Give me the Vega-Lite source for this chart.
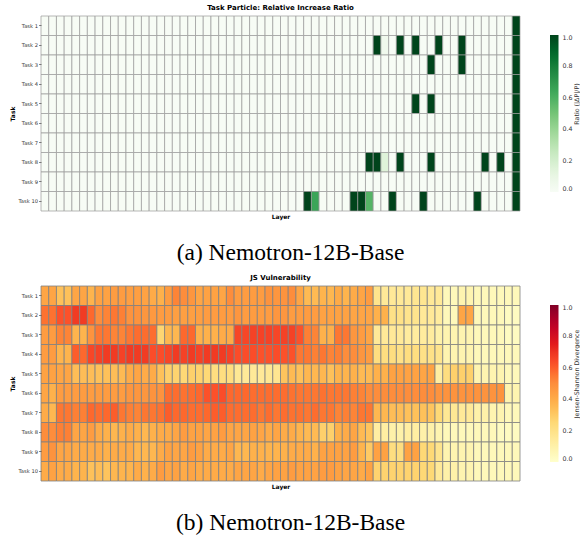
{
"$schema": "https://vega.github.io/schema/vega-lite/v6.json",
"background": "white",
"padding": {"left": 9, "top": 3, "right": 0, "bottom": 0},
"config": {"view": {"stroke": null}, "font": "DejaVu Sans"},
"datasets": {
"ratio": [
{"t":1,"l":0,"v":0},{"t":1,"l":1,"v":0},{"t":1,"l":2,"v":0},{"t":1,"l":3,"v":0},{"t":1,"l":4,"v":0},{"t":1,"l":5,"v":0},{"t":1,"l":6,"v":0},{"t":1,"l":7,"v":0},{"t":1,"l":8,"v":0},{"t":1,"l":9,"v":0},{"t":1,"l":10,"v":0},{"t":1,"l":11,"v":0},{"t":1,"l":12,"v":0},{"t":1,"l":13,"v":0},{"t":1,"l":14,"v":0},{"t":1,"l":15,"v":0},{"t":1,"l":16,"v":0},{"t":1,"l":17,"v":0},{"t":1,"l":18,"v":0},{"t":1,"l":19,"v":0},{"t":1,"l":20,"v":0},{"t":1,"l":21,"v":0},{"t":1,"l":22,"v":0},{"t":1,"l":23,"v":0},{"t":1,"l":24,"v":0},{"t":1,"l":25,"v":0},{"t":1,"l":26,"v":0},{"t":1,"l":27,"v":0},{"t":1,"l":28,"v":0},{"t":1,"l":29,"v":0},{"t":1,"l":30,"v":0},{"t":1,"l":31,"v":0},{"t":1,"l":32,"v":0},{"t":1,"l":33,"v":0},{"t":1,"l":34,"v":0},{"t":1,"l":35,"v":0},{"t":1,"l":36,"v":0},{"t":1,"l":37,"v":0},{"t":1,"l":38,"v":0},{"t":1,"l":39,"v":0},{"t":1,"l":40,"v":0},{"t":1,"l":41,"v":0},{"t":1,"l":42,"v":0},{"t":1,"l":43,"v":0},{"t":1,"l":44,"v":0},{"t":1,"l":45,"v":0},{"t":1,"l":46,"v":0},{"t":1,"l":47,"v":0},{"t":1,"l":48,"v":0},{"t":1,"l":49,"v":0},{"t":1,"l":50,"v":0},{"t":1,"l":51,"v":0},{"t":1,"l":52,"v":0},{"t":1,"l":53,"v":0},{"t":1,"l":54,"v":0},{"t":1,"l":55,"v":0},{"t":1,"l":56,"v":0},{"t":1,"l":57,"v":0},{"t":1,"l":58,"v":0},{"t":1,"l":59,"v":0},{"t":1,"l":60,"v":0},{"t":1,"l":61,"v":1},
{"t":2,"l":0,"v":0},{"t":2,"l":1,"v":0},{"t":2,"l":2,"v":0},{"t":2,"l":3,"v":0},{"t":2,"l":4,"v":0},{"t":2,"l":5,"v":0},{"t":2,"l":6,"v":0},{"t":2,"l":7,"v":0},{"t":2,"l":8,"v":0},{"t":2,"l":9,"v":0},{"t":2,"l":10,"v":0},{"t":2,"l":11,"v":0},{"t":2,"l":12,"v":0},{"t":2,"l":13,"v":0},{"t":2,"l":14,"v":0},{"t":2,"l":15,"v":0},{"t":2,"l":16,"v":0},{"t":2,"l":17,"v":0},{"t":2,"l":18,"v":0},{"t":2,"l":19,"v":0},{"t":2,"l":20,"v":0},{"t":2,"l":21,"v":0},{"t":2,"l":22,"v":0},{"t":2,"l":23,"v":0},{"t":2,"l":24,"v":0},{"t":2,"l":25,"v":0},{"t":2,"l":26,"v":0},{"t":2,"l":27,"v":0},{"t":2,"l":28,"v":0},{"t":2,"l":29,"v":0},{"t":2,"l":30,"v":0},{"t":2,"l":31,"v":0},{"t":2,"l":32,"v":0},{"t":2,"l":33,"v":0},{"t":2,"l":34,"v":0},{"t":2,"l":35,"v":0},{"t":2,"l":36,"v":0},{"t":2,"l":37,"v":0},{"t":2,"l":38,"v":0},{"t":2,"l":39,"v":0},{"t":2,"l":40,"v":0},{"t":2,"l":41,"v":0},{"t":2,"l":42,"v":0},{"t":2,"l":43,"v":1},{"t":2,"l":44,"v":0.05},{"t":2,"l":45,"v":0},{"t":2,"l":46,"v":1},{"t":2,"l":47,"v":0},{"t":2,"l":48,"v":1},{"t":2,"l":49,"v":0},{"t":2,"l":50,"v":0},{"t":2,"l":51,"v":1},{"t":2,"l":52,"v":0},{"t":2,"l":53,"v":0},{"t":2,"l":54,"v":1},{"t":2,"l":55,"v":0},{"t":2,"l":56,"v":0},{"t":2,"l":57,"v":0},{"t":2,"l":58,"v":0},{"t":2,"l":59,"v":0},{"t":2,"l":60,"v":0},{"t":2,"l":61,"v":1},
{"t":3,"l":0,"v":0},{"t":3,"l":1,"v":0},{"t":3,"l":2,"v":0},{"t":3,"l":3,"v":0},{"t":3,"l":4,"v":0},{"t":3,"l":5,"v":0},{"t":3,"l":6,"v":0},{"t":3,"l":7,"v":0},{"t":3,"l":8,"v":0},{"t":3,"l":9,"v":0},{"t":3,"l":10,"v":0},{"t":3,"l":11,"v":0},{"t":3,"l":12,"v":0},{"t":3,"l":13,"v":0},{"t":3,"l":14,"v":0},{"t":3,"l":15,"v":0},{"t":3,"l":16,"v":0},{"t":3,"l":17,"v":0},{"t":3,"l":18,"v":0},{"t":3,"l":19,"v":0},{"t":3,"l":20,"v":0},{"t":3,"l":21,"v":0},{"t":3,"l":22,"v":0},{"t":3,"l":23,"v":0},{"t":3,"l":24,"v":0},{"t":3,"l":25,"v":0},{"t":3,"l":26,"v":0},{"t":3,"l":27,"v":0},{"t":3,"l":28,"v":0},{"t":3,"l":29,"v":0},{"t":3,"l":30,"v":0},{"t":3,"l":31,"v":0},{"t":3,"l":32,"v":0},{"t":3,"l":33,"v":0},{"t":3,"l":34,"v":0},{"t":3,"l":35,"v":0},{"t":3,"l":36,"v":0},{"t":3,"l":37,"v":0},{"t":3,"l":38,"v":0},{"t":3,"l":39,"v":0},{"t":3,"l":40,"v":0},{"t":3,"l":41,"v":0},{"t":3,"l":42,"v":0},{"t":3,"l":43,"v":0},{"t":3,"l":44,"v":0},{"t":3,"l":45,"v":0},{"t":3,"l":46,"v":0},{"t":3,"l":47,"v":0},{"t":3,"l":48,"v":0},{"t":3,"l":49,"v":0},{"t":3,"l":50,"v":1},{"t":3,"l":51,"v":0},{"t":3,"l":52,"v":0},{"t":3,"l":53,"v":0},{"t":3,"l":54,"v":1},{"t":3,"l":55,"v":0},{"t":3,"l":56,"v":0},{"t":3,"l":57,"v":0},{"t":3,"l":58,"v":0},{"t":3,"l":59,"v":0},{"t":3,"l":60,"v":0},{"t":3,"l":61,"v":1},
{"t":4,"l":0,"v":0},{"t":4,"l":1,"v":0},{"t":4,"l":2,"v":0},{"t":4,"l":3,"v":0},{"t":4,"l":4,"v":0},{"t":4,"l":5,"v":0},{"t":4,"l":6,"v":0},{"t":4,"l":7,"v":0},{"t":4,"l":8,"v":0},{"t":4,"l":9,"v":0},{"t":4,"l":10,"v":0},{"t":4,"l":11,"v":0},{"t":4,"l":12,"v":0},{"t":4,"l":13,"v":0},{"t":4,"l":14,"v":0},{"t":4,"l":15,"v":0},{"t":4,"l":16,"v":0},{"t":4,"l":17,"v":0},{"t":4,"l":18,"v":0},{"t":4,"l":19,"v":0},{"t":4,"l":20,"v":0},{"t":4,"l":21,"v":0},{"t":4,"l":22,"v":0},{"t":4,"l":23,"v":0},{"t":4,"l":24,"v":0},{"t":4,"l":25,"v":0},{"t":4,"l":26,"v":0},{"t":4,"l":27,"v":0},{"t":4,"l":28,"v":0},{"t":4,"l":29,"v":0},{"t":4,"l":30,"v":0},{"t":4,"l":31,"v":0},{"t":4,"l":32,"v":0},{"t":4,"l":33,"v":0},{"t":4,"l":34,"v":0},{"t":4,"l":35,"v":0},{"t":4,"l":36,"v":0},{"t":4,"l":37,"v":0},{"t":4,"l":38,"v":0},{"t":4,"l":39,"v":0},{"t":4,"l":40,"v":0},{"t":4,"l":41,"v":0},{"t":4,"l":42,"v":0},{"t":4,"l":43,"v":0},{"t":4,"l":44,"v":0},{"t":4,"l":45,"v":0},{"t":4,"l":46,"v":0},{"t":4,"l":47,"v":0},{"t":4,"l":48,"v":0},{"t":4,"l":49,"v":0},{"t":4,"l":50,"v":0},{"t":4,"l":51,"v":0},{"t":4,"l":52,"v":0},{"t":4,"l":53,"v":0},{"t":4,"l":54,"v":0},{"t":4,"l":55,"v":0},{"t":4,"l":56,"v":0},{"t":4,"l":57,"v":0},{"t":4,"l":58,"v":0},{"t":4,"l":59,"v":0},{"t":4,"l":60,"v":0},{"t":4,"l":61,"v":1},
{"t":5,"l":0,"v":0},{"t":5,"l":1,"v":0},{"t":5,"l":2,"v":0},{"t":5,"l":3,"v":0},{"t":5,"l":4,"v":0},{"t":5,"l":5,"v":0},{"t":5,"l":6,"v":0},{"t":5,"l":7,"v":0},{"t":5,"l":8,"v":0},{"t":5,"l":9,"v":0},{"t":5,"l":10,"v":0},{"t":5,"l":11,"v":0},{"t":5,"l":12,"v":0},{"t":5,"l":13,"v":0},{"t":5,"l":14,"v":0},{"t":5,"l":15,"v":0},{"t":5,"l":16,"v":0},{"t":5,"l":17,"v":0},{"t":5,"l":18,"v":0},{"t":5,"l":19,"v":0},{"t":5,"l":20,"v":0},{"t":5,"l":21,"v":0},{"t":5,"l":22,"v":0},{"t":5,"l":23,"v":0},{"t":5,"l":24,"v":0},{"t":5,"l":25,"v":0},{"t":5,"l":26,"v":0},{"t":5,"l":27,"v":0},{"t":5,"l":28,"v":0},{"t":5,"l":29,"v":0},{"t":5,"l":30,"v":0},{"t":5,"l":31,"v":0},{"t":5,"l":32,"v":0},{"t":5,"l":33,"v":0},{"t":5,"l":34,"v":0},{"t":5,"l":35,"v":0},{"t":5,"l":36,"v":0},{"t":5,"l":37,"v":0},{"t":5,"l":38,"v":0},{"t":5,"l":39,"v":0},{"t":5,"l":40,"v":0},{"t":5,"l":41,"v":0},{"t":5,"l":42,"v":0},{"t":5,"l":43,"v":0},{"t":5,"l":44,"v":0},{"t":5,"l":45,"v":0},{"t":5,"l":46,"v":0},{"t":5,"l":47,"v":0},{"t":5,"l":48,"v":1},{"t":5,"l":49,"v":0},{"t":5,"l":50,"v":1},{"t":5,"l":51,"v":0},{"t":5,"l":52,"v":0},{"t":5,"l":53,"v":0},{"t":5,"l":54,"v":0},{"t":5,"l":55,"v":0},{"t":5,"l":56,"v":0},{"t":5,"l":57,"v":0},{"t":5,"l":58,"v":0},{"t":5,"l":59,"v":0},{"t":5,"l":60,"v":0},{"t":5,"l":61,"v":1},
{"t":6,"l":0,"v":0},{"t":6,"l":1,"v":0},{"t":6,"l":2,"v":0},{"t":6,"l":3,"v":0},{"t":6,"l":4,"v":0},{"t":6,"l":5,"v":0},{"t":6,"l":6,"v":0},{"t":6,"l":7,"v":0},{"t":6,"l":8,"v":0},{"t":6,"l":9,"v":0},{"t":6,"l":10,"v":0},{"t":6,"l":11,"v":0},{"t":6,"l":12,"v":0},{"t":6,"l":13,"v":0},{"t":6,"l":14,"v":0},{"t":6,"l":15,"v":0},{"t":6,"l":16,"v":0},{"t":6,"l":17,"v":0},{"t":6,"l":18,"v":0},{"t":6,"l":19,"v":0},{"t":6,"l":20,"v":0},{"t":6,"l":21,"v":0},{"t":6,"l":22,"v":0},{"t":6,"l":23,"v":0},{"t":6,"l":24,"v":0},{"t":6,"l":25,"v":0},{"t":6,"l":26,"v":0},{"t":6,"l":27,"v":0},{"t":6,"l":28,"v":0},{"t":6,"l":29,"v":0},{"t":6,"l":30,"v":0},{"t":6,"l":31,"v":0},{"t":6,"l":32,"v":0},{"t":6,"l":33,"v":0},{"t":6,"l":34,"v":0},{"t":6,"l":35,"v":0},{"t":6,"l":36,"v":0},{"t":6,"l":37,"v":0},{"t":6,"l":38,"v":0},{"t":6,"l":39,"v":0},{"t":6,"l":40,"v":0},{"t":6,"l":41,"v":0},{"t":6,"l":42,"v":0},{"t":6,"l":43,"v":0},{"t":6,"l":44,"v":0},{"t":6,"l":45,"v":0},{"t":6,"l":46,"v":0},{"t":6,"l":47,"v":0},{"t":6,"l":48,"v":0},{"t":6,"l":49,"v":0},{"t":6,"l":50,"v":0},{"t":6,"l":51,"v":0},{"t":6,"l":52,"v":0},{"t":6,"l":53,"v":0},{"t":6,"l":54,"v":0},{"t":6,"l":55,"v":0},{"t":6,"l":56,"v":0},{"t":6,"l":57,"v":0},{"t":6,"l":58,"v":0},{"t":6,"l":59,"v":0},{"t":6,"l":60,"v":0},{"t":6,"l":61,"v":1},
{"t":7,"l":0,"v":0},{"t":7,"l":1,"v":0},{"t":7,"l":2,"v":0},{"t":7,"l":3,"v":0},{"t":7,"l":4,"v":0},{"t":7,"l":5,"v":0},{"t":7,"l":6,"v":0},{"t":7,"l":7,"v":0},{"t":7,"l":8,"v":0},{"t":7,"l":9,"v":0},{"t":7,"l":10,"v":0},{"t":7,"l":11,"v":0},{"t":7,"l":12,"v":0},{"t":7,"l":13,"v":0},{"t":7,"l":14,"v":0},{"t":7,"l":15,"v":0},{"t":7,"l":16,"v":0},{"t":7,"l":17,"v":0},{"t":7,"l":18,"v":0},{"t":7,"l":19,"v":0},{"t":7,"l":20,"v":0},{"t":7,"l":21,"v":0},{"t":7,"l":22,"v":0},{"t":7,"l":23,"v":0},{"t":7,"l":24,"v":0},{"t":7,"l":25,"v":0},{"t":7,"l":26,"v":0},{"t":7,"l":27,"v":0},{"t":7,"l":28,"v":0},{"t":7,"l":29,"v":0},{"t":7,"l":30,"v":0},{"t":7,"l":31,"v":0},{"t":7,"l":32,"v":0},{"t":7,"l":33,"v":0},{"t":7,"l":34,"v":0},{"t":7,"l":35,"v":0},{"t":7,"l":36,"v":0},{"t":7,"l":37,"v":0},{"t":7,"l":38,"v":0},{"t":7,"l":39,"v":0},{"t":7,"l":40,"v":0},{"t":7,"l":41,"v":0},{"t":7,"l":42,"v":0},{"t":7,"l":43,"v":0},{"t":7,"l":44,"v":0},{"t":7,"l":45,"v":0},{"t":7,"l":46,"v":0},{"t":7,"l":47,"v":0},{"t":7,"l":48,"v":0},{"t":7,"l":49,"v":0},{"t":7,"l":50,"v":0},{"t":7,"l":51,"v":0},{"t":7,"l":52,"v":0},{"t":7,"l":53,"v":0},{"t":7,"l":54,"v":0},{"t":7,"l":55,"v":0},{"t":7,"l":56,"v":0},{"t":7,"l":57,"v":0},{"t":7,"l":58,"v":0},{"t":7,"l":59,"v":0},{"t":7,"l":60,"v":0},{"t":7,"l":61,"v":1},
{"t":8,"l":0,"v":0},{"t":8,"l":1,"v":0},{"t":8,"l":2,"v":0},{"t":8,"l":3,"v":0},{"t":8,"l":4,"v":0},{"t":8,"l":5,"v":0},{"t":8,"l":6,"v":0},{"t":8,"l":7,"v":0},{"t":8,"l":8,"v":0},{"t":8,"l":9,"v":0},{"t":8,"l":10,"v":0},{"t":8,"l":11,"v":0},{"t":8,"l":12,"v":0},{"t":8,"l":13,"v":0},{"t":8,"l":14,"v":0},{"t":8,"l":15,"v":0},{"t":8,"l":16,"v":0},{"t":8,"l":17,"v":0},{"t":8,"l":18,"v":0},{"t":8,"l":19,"v":0},{"t":8,"l":20,"v":0},{"t":8,"l":21,"v":0},{"t":8,"l":22,"v":0},{"t":8,"l":23,"v":0},{"t":8,"l":24,"v":0},{"t":8,"l":25,"v":0},{"t":8,"l":26,"v":0},{"t":8,"l":27,"v":0},{"t":8,"l":28,"v":0},{"t":8,"l":29,"v":0},{"t":8,"l":30,"v":0},{"t":8,"l":31,"v":0},{"t":8,"l":32,"v":0},{"t":8,"l":33,"v":0},{"t":8,"l":34,"v":0},{"t":8,"l":35,"v":0},{"t":8,"l":36,"v":0},{"t":8,"l":37,"v":0},{"t":8,"l":38,"v":0},{"t":8,"l":39,"v":0},{"t":8,"l":40,"v":0},{"t":8,"l":41,"v":0},{"t":8,"l":42,"v":1},{"t":8,"l":43,"v":1},{"t":8,"l":44,"v":0.15},{"t":8,"l":45,"v":0},{"t":8,"l":46,"v":1},{"t":8,"l":47,"v":0},{"t":8,"l":48,"v":0},{"t":8,"l":49,"v":0},{"t":8,"l":50,"v":1},{"t":8,"l":51,"v":0},{"t":8,"l":52,"v":0},{"t":8,"l":53,"v":0},{"t":8,"l":54,"v":0},{"t":8,"l":55,"v":0},{"t":8,"l":56,"v":0},{"t":8,"l":57,"v":1},{"t":8,"l":58,"v":0},{"t":8,"l":59,"v":1},{"t":8,"l":60,"v":0},{"t":8,"l":61,"v":1},
{"t":9,"l":0,"v":0},{"t":9,"l":1,"v":0},{"t":9,"l":2,"v":0},{"t":9,"l":3,"v":0},{"t":9,"l":4,"v":0},{"t":9,"l":5,"v":0},{"t":9,"l":6,"v":0},{"t":9,"l":7,"v":0},{"t":9,"l":8,"v":0},{"t":9,"l":9,"v":0},{"t":9,"l":10,"v":0},{"t":9,"l":11,"v":0},{"t":9,"l":12,"v":0},{"t":9,"l":13,"v":0},{"t":9,"l":14,"v":0},{"t":9,"l":15,"v":0},{"t":9,"l":16,"v":0},{"t":9,"l":17,"v":0},{"t":9,"l":18,"v":0},{"t":9,"l":19,"v":0},{"t":9,"l":20,"v":0},{"t":9,"l":21,"v":0},{"t":9,"l":22,"v":0},{"t":9,"l":23,"v":0},{"t":9,"l":24,"v":0},{"t":9,"l":25,"v":0},{"t":9,"l":26,"v":0},{"t":9,"l":27,"v":0},{"t":9,"l":28,"v":0},{"t":9,"l":29,"v":0},{"t":9,"l":30,"v":0},{"t":9,"l":31,"v":0},{"t":9,"l":32,"v":0},{"t":9,"l":33,"v":0},{"t":9,"l":34,"v":0},{"t":9,"l":35,"v":0},{"t":9,"l":36,"v":0},{"t":9,"l":37,"v":0},{"t":9,"l":38,"v":0},{"t":9,"l":39,"v":0},{"t":9,"l":40,"v":0},{"t":9,"l":41,"v":0},{"t":9,"l":42,"v":0},{"t":9,"l":43,"v":0},{"t":9,"l":44,"v":0},{"t":9,"l":45,"v":0},{"t":9,"l":46,"v":0},{"t":9,"l":47,"v":0},{"t":9,"l":48,"v":0},{"t":9,"l":49,"v":0},{"t":9,"l":50,"v":0},{"t":9,"l":51,"v":0},{"t":9,"l":52,"v":0},{"t":9,"l":53,"v":0},{"t":9,"l":54,"v":0},{"t":9,"l":55,"v":0},{"t":9,"l":56,"v":0},{"t":9,"l":57,"v":0},{"t":9,"l":58,"v":0},{"t":9,"l":59,"v":0},{"t":9,"l":60,"v":0},{"t":9,"l":61,"v":1},
{"t":10,"l":0,"v":0},{"t":10,"l":1,"v":0},{"t":10,"l":2,"v":0},{"t":10,"l":3,"v":0},{"t":10,"l":4,"v":0},{"t":10,"l":5,"v":0},{"t":10,"l":6,"v":0},{"t":10,"l":7,"v":0},{"t":10,"l":8,"v":0},{"t":10,"l":9,"v":0},{"t":10,"l":10,"v":0},{"t":10,"l":11,"v":0},{"t":10,"l":12,"v":0},{"t":10,"l":13,"v":0},{"t":10,"l":14,"v":0},{"t":10,"l":15,"v":0},{"t":10,"l":16,"v":0},{"t":10,"l":17,"v":0},{"t":10,"l":18,"v":0},{"t":10,"l":19,"v":0},{"t":10,"l":20,"v":0},{"t":10,"l":21,"v":0},{"t":10,"l":22,"v":0},{"t":10,"l":23,"v":0},{"t":10,"l":24,"v":0},{"t":10,"l":25,"v":0},{"t":10,"l":26,"v":0},{"t":10,"l":27,"v":0},{"t":10,"l":28,"v":0},{"t":10,"l":29,"v":0},{"t":10,"l":30,"v":0},{"t":10,"l":31,"v":0},{"t":10,"l":32,"v":0},{"t":10,"l":33,"v":0},{"t":10,"l":34,"v":1},{"t":10,"l":35,"v":0.65},{"t":10,"l":36,"v":0},{"t":10,"l":37,"v":0},{"t":10,"l":38,"v":0},{"t":10,"l":39,"v":0},{"t":10,"l":40,"v":1},{"t":10,"l":41,"v":1},{"t":10,"l":42,"v":0.58},{"t":10,"l":43,"v":0},{"t":10,"l":44,"v":0},{"t":10,"l":45,"v":1},{"t":10,"l":46,"v":0},{"t":10,"l":47,"v":0},{"t":10,"l":48,"v":0},{"t":10,"l":49,"v":1},{"t":10,"l":50,"v":0},{"t":10,"l":51,"v":0},{"t":10,"l":52,"v":0},{"t":10,"l":53,"v":0},{"t":10,"l":54,"v":0},{"t":10,"l":55,"v":0},{"t":10,"l":56,"v":1},{"t":10,"l":57,"v":0},{"t":10,"l":58,"v":0},{"t":10,"l":59,"v":0},{"t":10,"l":60,"v":0},{"t":10,"l":61,"v":1}
],
"js": [
{"t":1,"l":0,"v":0.42},{"t":1,"l":1,"v":0.42},{"t":1,"l":2,"v":0.33},{"t":1,"l":3,"v":0.33},{"t":1,"l":4,"v":0.42},{"t":1,"l":5,"v":0.42},{"t":1,"l":6,"v":0.37},{"t":1,"l":7,"v":0.43},{"t":1,"l":8,"v":0.43},{"t":1,"l":9,"v":0.45},{"t":1,"l":10,"v":0.45},{"t":1,"l":11,"v":0.44},{"t":1,"l":12,"v":0.44},{"t":1,"l":13,"v":0.43},{"t":1,"l":14,"v":0.40},{"t":1,"l":15,"v":0.38},{"t":1,"l":16,"v":0.45},{"t":1,"l":17,"v":0.52},{"t":1,"l":18,"v":0.50},{"t":1,"l":19,"v":0.47},{"t":1,"l":20,"v":0.42},{"t":1,"l":21,"v":0.43},{"t":1,"l":22,"v":0.43},{"t":1,"l":23,"v":0.42},{"t":1,"l":24,"v":0.50},{"t":1,"l":25,"v":0.45},{"t":1,"l":26,"v":0.45},{"t":1,"l":27,"v":0.45},{"t":1,"l":28,"v":0.45},{"t":1,"l":29,"v":0.48},{"t":1,"l":30,"v":0.47},{"t":1,"l":31,"v":0.48},{"t":1,"l":32,"v":0.50},{"t":1,"l":33,"v":0.42},{"t":1,"l":34,"v":0.35},{"t":1,"l":35,"v":0.35},{"t":1,"l":36,"v":0.37},{"t":1,"l":37,"v":0.36},{"t":1,"l":38,"v":0.40},{"t":1,"l":39,"v":0.37},{"t":1,"l":40,"v":0.40},{"t":1,"l":41,"v":0.42},{"t":1,"l":42,"v":0.45},{"t":1,"l":43,"v":0.18},{"t":1,"l":44,"v":0.15},{"t":1,"l":45,"v":0.15},{"t":1,"l":46,"v":0.15},{"t":1,"l":47,"v":0.15},{"t":1,"l":48,"v":0.17},{"t":1,"l":49,"v":0.17},{"t":1,"l":50,"v":0.15},{"t":1,"l":51,"v":0.15},{"t":1,"l":52,"v":0.05},{"t":1,"l":53,"v":0.05},{"t":1,"l":54,"v":0.08},{"t":1,"l":55,"v":0.08},{"t":1,"l":56,"v":0.05},{"t":1,"l":57,"v":0.05},{"t":1,"l":58,"v":0.05},{"t":1,"l":59,"v":0.05},{"t":1,"l":60,"v":0.05},{"t":1,"l":61,"v":0.05},
{"t":2,"l":0,"v":0.56},{"t":2,"l":1,"v":0.56},{"t":2,"l":2,"v":0.62},{"t":2,"l":3,"v":0.62},{"t":2,"l":4,"v":0.68},{"t":2,"l":5,"v":0.68},{"t":2,"l":6,"v":0.58},{"t":2,"l":7,"v":0.50},{"t":2,"l":8,"v":0.52},{"t":2,"l":9,"v":0.55},{"t":2,"l":10,"v":0.53},{"t":2,"l":11,"v":0.48},{"t":2,"l":12,"v":0.48},{"t":2,"l":13,"v":0.47},{"t":2,"l":14,"v":0.46},{"t":2,"l":15,"v":0.45},{"t":2,"l":16,"v":0.45},{"t":2,"l":17,"v":0.44},{"t":2,"l":18,"v":0.44},{"t":2,"l":19,"v":0.44},{"t":2,"l":20,"v":0.44},{"t":2,"l":21,"v":0.45},{"t":2,"l":22,"v":0.45},{"t":2,"l":23,"v":0.45},{"t":2,"l":24,"v":0.45},{"t":2,"l":25,"v":0.47},{"t":2,"l":26,"v":0.45},{"t":2,"l":27,"v":0.45},{"t":2,"l":28,"v":0.45},{"t":2,"l":29,"v":0.45},{"t":2,"l":30,"v":0.47},{"t":2,"l":31,"v":0.47},{"t":2,"l":32,"v":0.45},{"t":2,"l":33,"v":0.45},{"t":2,"l":34,"v":0.45},{"t":2,"l":35,"v":0.45},{"t":2,"l":36,"v":0.43},{"t":2,"l":37,"v":0.43},{"t":2,"l":38,"v":0.43},{"t":2,"l":39,"v":0.43},{"t":2,"l":40,"v":0.42},{"t":2,"l":41,"v":0.42},{"t":2,"l":42,"v":0.42},{"t":2,"l":43,"v":0.38},{"t":2,"l":44,"v":0.38},{"t":2,"l":45,"v":0.20},{"t":2,"l":46,"v":0.20},{"t":2,"l":47,"v":0.18},{"t":2,"l":48,"v":0.18},{"t":2,"l":49,"v":0.15},{"t":2,"l":50,"v":0.15},{"t":2,"l":51,"v":0.13},{"t":2,"l":52,"v":0.05},{"t":2,"l":53,"v":0.05},{"t":2,"l":54,"v":0.42},{"t":2,"l":55,"v":0.42},{"t":2,"l":56,"v":0.05},{"t":2,"l":57,"v":0.05},{"t":2,"l":58,"v":0.05},{"t":2,"l":59,"v":0.05},{"t":2,"l":60,"v":0.03},{"t":2,"l":61,"v":0.03},
{"t":3,"l":0,"v":0.45},{"t":3,"l":1,"v":0.45},{"t":3,"l":2,"v":0.52},{"t":3,"l":3,"v":0.52},{"t":3,"l":4,"v":0.37},{"t":3,"l":5,"v":0.37},{"t":3,"l":6,"v":0.48},{"t":3,"l":7,"v":0.55},{"t":3,"l":8,"v":0.55},{"t":3,"l":9,"v":0.52},{"t":3,"l":10,"v":0.52},{"t":3,"l":11,"v":0.55},{"t":3,"l":12,"v":0.57},{"t":3,"l":13,"v":0.57},{"t":3,"l":14,"v":0.57},{"t":3,"l":15,"v":0.26},{"t":3,"l":16,"v":0.36},{"t":3,"l":17,"v":0.36},{"t":3,"l":18,"v":0.58},{"t":3,"l":19,"v":0.58},{"t":3,"l":20,"v":0.38},{"t":3,"l":21,"v":0.38},{"t":3,"l":22,"v":0.38},{"t":3,"l":23,"v":0.40},{"t":3,"l":24,"v":0.40},{"t":3,"l":25,"v":0.65},{"t":3,"l":26,"v":0.65},{"t":3,"l":27,"v":0.66},{"t":3,"l":28,"v":0.66},{"t":3,"l":29,"v":0.66},{"t":3,"l":30,"v":0.65},{"t":3,"l":31,"v":0.66},{"t":3,"l":32,"v":0.66},{"t":3,"l":33,"v":0.62},{"t":3,"l":34,"v":0.53},{"t":3,"l":35,"v":0.52},{"t":3,"l":36,"v":0.38},{"t":3,"l":37,"v":0.38},{"t":3,"l":38,"v":0.55},{"t":3,"l":39,"v":0.55},{"t":3,"l":40,"v":0.47},{"t":3,"l":41,"v":0.45},{"t":3,"l":42,"v":0.42},{"t":3,"l":43,"v":0.15},{"t":3,"l":44,"v":0.15},{"t":3,"l":45,"v":0.15},{"t":3,"l":46,"v":0.15},{"t":3,"l":47,"v":0.13},{"t":3,"l":48,"v":0.13},{"t":3,"l":49,"v":0.13},{"t":3,"l":50,"v":0.13},{"t":3,"l":51,"v":0.10},{"t":3,"l":52,"v":0.08},{"t":3,"l":53,"v":0.08},{"t":3,"l":54,"v":0.08},{"t":3,"l":55,"v":0.08},{"t":3,"l":56,"v":0.05},{"t":3,"l":57,"v":0.05},{"t":3,"l":58,"v":0.05},{"t":3,"l":59,"v":0.05},{"t":3,"l":60,"v":0.03},{"t":3,"l":61,"v":0.03},
{"t":4,"l":0,"v":0.45},{"t":4,"l":1,"v":0.45},{"t":4,"l":2,"v":0.37},{"t":4,"l":3,"v":0.37},{"t":4,"l":4,"v":0.60},{"t":4,"l":5,"v":0.58},{"t":4,"l":6,"v":0.65},{"t":4,"l":7,"v":0.66},{"t":4,"l":8,"v":0.68},{"t":4,"l":9,"v":0.68},{"t":4,"l":10,"v":0.66},{"t":4,"l":11,"v":0.68},{"t":4,"l":12,"v":0.68},{"t":4,"l":13,"v":0.68},{"t":4,"l":14,"v":0.63},{"t":4,"l":15,"v":0.63},{"t":4,"l":16,"v":0.65},{"t":4,"l":17,"v":0.68},{"t":4,"l":18,"v":0.66},{"t":4,"l":19,"v":0.68},{"t":4,"l":20,"v":0.66},{"t":4,"l":21,"v":0.68},{"t":4,"l":22,"v":0.68},{"t":4,"l":23,"v":0.68},{"t":4,"l":24,"v":0.66},{"t":4,"l":25,"v":0.63},{"t":4,"l":26,"v":0.63},{"t":4,"l":27,"v":0.63},{"t":4,"l":28,"v":0.62},{"t":4,"l":29,"v":0.62},{"t":4,"l":30,"v":0.63},{"t":4,"l":31,"v":0.62},{"t":4,"l":32,"v":0.62},{"t":4,"l":33,"v":0.55},{"t":4,"l":34,"v":0.55},{"t":4,"l":35,"v":0.53},{"t":4,"l":36,"v":0.55},{"t":4,"l":37,"v":0.52},{"t":4,"l":38,"v":0.53},{"t":4,"l":39,"v":0.50},{"t":4,"l":40,"v":0.50},{"t":4,"l":41,"v":0.47},{"t":4,"l":42,"v":0.45},{"t":4,"l":43,"v":0.22},{"t":4,"l":44,"v":0.22},{"t":4,"l":45,"v":0.22},{"t":4,"l":46,"v":0.20},{"t":4,"l":47,"v":0.22},{"t":4,"l":48,"v":0.22},{"t":4,"l":49,"v":0.20},{"t":4,"l":50,"v":0.20},{"t":4,"l":51,"v":0.18},{"t":4,"l":52,"v":0.08},{"t":4,"l":53,"v":0.08},{"t":4,"l":54,"v":0.08},{"t":4,"l":55,"v":0.08},{"t":4,"l":56,"v":0.05},{"t":4,"l":57,"v":0.05},{"t":4,"l":58,"v":0.05},{"t":4,"l":59,"v":0.05},{"t":4,"l":60,"v":0.05},{"t":4,"l":61,"v":0.05},
{"t":5,"l":0,"v":0.43},{"t":5,"l":1,"v":0.43},{"t":5,"l":2,"v":0.42},{"t":5,"l":3,"v":0.42},{"t":5,"l":4,"v":0.34},{"t":5,"l":5,"v":0.34},{"t":5,"l":6,"v":0.34},{"t":5,"l":7,"v":0.33},{"t":5,"l":8,"v":0.33},{"t":5,"l":9,"v":0.34},{"t":5,"l":10,"v":0.35},{"t":5,"l":11,"v":0.40},{"t":5,"l":12,"v":0.42},{"t":5,"l":13,"v":0.40},{"t":5,"l":14,"v":0.40},{"t":5,"l":15,"v":0.33},{"t":5,"l":16,"v":0.28},{"t":5,"l":17,"v":0.27},{"t":5,"l":18,"v":0.25},{"t":5,"l":19,"v":0.28},{"t":5,"l":20,"v":0.27},{"t":5,"l":21,"v":0.25},{"t":5,"l":22,"v":0.22},{"t":5,"l":23,"v":0.22},{"t":5,"l":24,"v":0.22},{"t":5,"l":25,"v":0.16},{"t":5,"l":26,"v":0.15},{"t":5,"l":27,"v":0.15},{"t":5,"l":28,"v":0.15},{"t":5,"l":29,"v":0.16},{"t":5,"l":30,"v":0.17},{"t":5,"l":31,"v":0.32},{"t":5,"l":32,"v":0.35},{"t":5,"l":33,"v":0.33},{"t":5,"l":34,"v":0.36},{"t":5,"l":35,"v":0.36},{"t":5,"l":36,"v":0.36},{"t":5,"l":37,"v":0.33},{"t":5,"l":38,"v":0.37},{"t":5,"l":39,"v":0.37},{"t":5,"l":40,"v":0.38},{"t":5,"l":41,"v":0.35},{"t":5,"l":42,"v":0.35},{"t":5,"l":43,"v":0.38},{"t":5,"l":44,"v":0.38},{"t":5,"l":45,"v":0.43},{"t":5,"l":46,"v":0.43},{"t":5,"l":47,"v":0.43},{"t":5,"l":48,"v":0.43},{"t":5,"l":49,"v":0.42},{"t":5,"l":50,"v":0.43},{"t":5,"l":51,"v":0.12},{"t":5,"l":52,"v":0.22},{"t":5,"l":53,"v":0.28},{"t":5,"l":54,"v":0.28},{"t":5,"l":55,"v":0.28},{"t":5,"l":56,"v":0.08},{"t":5,"l":57,"v":0.08},{"t":5,"l":58,"v":0.08},{"t":5,"l":59,"v":0.08},{"t":5,"l":60,"v":0.05},{"t":5,"l":61,"v":0.05},
{"t":6,"l":0,"v":0.42},{"t":6,"l":1,"v":0.38},{"t":6,"l":2,"v":0.45},{"t":6,"l":3,"v":0.45},{"t":6,"l":4,"v":0.45},{"t":6,"l":5,"v":0.45},{"t":6,"l":6,"v":0.45},{"t":6,"l":7,"v":0.45},{"t":6,"l":8,"v":0.45},{"t":6,"l":9,"v":0.45},{"t":6,"l":10,"v":0.45},{"t":6,"l":11,"v":0.47},{"t":6,"l":12,"v":0.47},{"t":6,"l":13,"v":0.47},{"t":6,"l":14,"v":0.48},{"t":6,"l":15,"v":0.48},{"t":6,"l":16,"v":0.57},{"t":6,"l":17,"v":0.57},{"t":6,"l":18,"v":0.56},{"t":6,"l":19,"v":0.57},{"t":6,"l":20,"v":0.58},{"t":6,"l":21,"v":0.62},{"t":6,"l":22,"v":0.62},{"t":6,"l":23,"v":0.63},{"t":6,"l":24,"v":0.58},{"t":6,"l":25,"v":0.58},{"t":6,"l":26,"v":0.58},{"t":6,"l":27,"v":0.57},{"t":6,"l":28,"v":0.57},{"t":6,"l":29,"v":0.57},{"t":6,"l":30,"v":0.57},{"t":6,"l":31,"v":0.57},{"t":6,"l":32,"v":0.56},{"t":6,"l":33,"v":0.55},{"t":6,"l":34,"v":0.55},{"t":6,"l":35,"v":0.55},{"t":6,"l":36,"v":0.56},{"t":6,"l":37,"v":0.55},{"t":6,"l":38,"v":0.55},{"t":6,"l":39,"v":0.55},{"t":6,"l":40,"v":0.53},{"t":6,"l":41,"v":0.52},{"t":6,"l":42,"v":0.50},{"t":6,"l":43,"v":0.50},{"t":6,"l":44,"v":0.50},{"t":6,"l":45,"v":0.50},{"t":6,"l":46,"v":0.50},{"t":6,"l":47,"v":0.50},{"t":6,"l":48,"v":0.50},{"t":6,"l":49,"v":0.50},{"t":6,"l":50,"v":0.50},{"t":6,"l":51,"v":0.48},{"t":6,"l":52,"v":0.48},{"t":6,"l":53,"v":0.48},{"t":6,"l":54,"v":0.48},{"t":6,"l":55,"v":0.48},{"t":6,"l":56,"v":0.48},{"t":6,"l":57,"v":0.48},{"t":6,"l":58,"v":0.48},{"t":6,"l":59,"v":0.48},{"t":6,"l":60,"v":0.08},{"t":6,"l":61,"v":0.08},
{"t":7,"l":0,"v":0.40},{"t":7,"l":1,"v":0.36},{"t":7,"l":2,"v":0.55},{"t":7,"l":3,"v":0.55},{"t":7,"l":4,"v":0.53},{"t":7,"l":5,"v":0.53},{"t":7,"l":6,"v":0.58},{"t":7,"l":7,"v":0.57},{"t":7,"l":8,"v":0.58},{"t":7,"l":9,"v":0.60},{"t":7,"l":10,"v":0.55},{"t":7,"l":11,"v":0.53},{"t":7,"l":12,"v":0.52},{"t":7,"l":13,"v":0.55},{"t":7,"l":14,"v":0.55},{"t":7,"l":15,"v":0.56},{"t":7,"l":16,"v":0.60},{"t":7,"l":17,"v":0.58},{"t":7,"l":18,"v":0.58},{"t":7,"l":19,"v":0.57},{"t":7,"l":20,"v":0.57},{"t":7,"l":21,"v":0.58},{"t":7,"l":22,"v":0.60},{"t":7,"l":23,"v":0.60},{"t":7,"l":24,"v":0.57},{"t":7,"l":25,"v":0.57},{"t":7,"l":26,"v":0.57},{"t":7,"l":27,"v":0.57},{"t":7,"l":28,"v":0.55},{"t":7,"l":29,"v":0.57},{"t":7,"l":30,"v":0.55},{"t":7,"l":31,"v":0.57},{"t":7,"l":32,"v":0.56},{"t":7,"l":33,"v":0.56},{"t":7,"l":34,"v":0.55},{"t":7,"l":35,"v":0.57},{"t":7,"l":36,"v":0.55},{"t":7,"l":37,"v":0.55},{"t":7,"l":38,"v":0.52},{"t":7,"l":39,"v":0.53},{"t":7,"l":40,"v":0.52},{"t":7,"l":41,"v":0.55},{"t":7,"l":42,"v":0.55},{"t":7,"l":43,"v":0.36},{"t":7,"l":44,"v":0.36},{"t":7,"l":45,"v":0.34},{"t":7,"l":46,"v":0.34},{"t":7,"l":47,"v":0.33},{"t":7,"l":48,"v":0.33},{"t":7,"l":49,"v":0.33},{"t":7,"l":50,"v":0.32},{"t":7,"l":51,"v":0.25},{"t":7,"l":52,"v":0.16},{"t":7,"l":53,"v":0.16},{"t":7,"l":54,"v":0.15},{"t":7,"l":55,"v":0.15},{"t":7,"l":56,"v":0.10},{"t":7,"l":57,"v":0.10},{"t":7,"l":58,"v":0.08},{"t":7,"l":59,"v":0.08},{"t":7,"l":60,"v":0.05},{"t":7,"l":61,"v":0.05},
{"t":8,"l":0,"v":0.50},{"t":8,"l":1,"v":0.50},{"t":8,"l":2,"v":0.53},{"t":8,"l":3,"v":0.53},{"t":8,"l":4,"v":0.42},{"t":8,"l":5,"v":0.42},{"t":8,"l":6,"v":0.45},{"t":8,"l":7,"v":0.40},{"t":8,"l":8,"v":0.38},{"t":8,"l":9,"v":0.36},{"t":8,"l":10,"v":0.38},{"t":8,"l":11,"v":0.40},{"t":8,"l":12,"v":0.38},{"t":8,"l":13,"v":0.36},{"t":8,"l":14,"v":0.38},{"t":8,"l":15,"v":0.40},{"t":8,"l":16,"v":0.40},{"t":8,"l":17,"v":0.42},{"t":8,"l":18,"v":0.45},{"t":8,"l":19,"v":0.43},{"t":8,"l":20,"v":0.43},{"t":8,"l":21,"v":0.42},{"t":8,"l":22,"v":0.43},{"t":8,"l":23,"v":0.45},{"t":8,"l":24,"v":0.42},{"t":8,"l":25,"v":0.42},{"t":8,"l":26,"v":0.42},{"t":8,"l":27,"v":0.43},{"t":8,"l":28,"v":0.42},{"t":8,"l":29,"v":0.40},{"t":8,"l":30,"v":0.42},{"t":8,"l":31,"v":0.40},{"t":8,"l":32,"v":0.40},{"t":8,"l":33,"v":0.37},{"t":8,"l":34,"v":0.35},{"t":8,"l":35,"v":0.35},{"t":8,"l":36,"v":0.28},{"t":8,"l":37,"v":0.28},{"t":8,"l":38,"v":0.38},{"t":8,"l":39,"v":0.40},{"t":8,"l":40,"v":0.42},{"t":8,"l":41,"v":0.35},{"t":8,"l":42,"v":0.32},{"t":8,"l":43,"v":0.12},{"t":8,"l":44,"v":0.12},{"t":8,"l":45,"v":0.10},{"t":8,"l":46,"v":0.10},{"t":8,"l":47,"v":0.12},{"t":8,"l":48,"v":0.12},{"t":8,"l":49,"v":0.10},{"t":8,"l":50,"v":0.10},{"t":8,"l":51,"v":0.08},{"t":8,"l":52,"v":0.05},{"t":8,"l":53,"v":0.05},{"t":8,"l":54,"v":0.05},{"t":8,"l":55,"v":0.05},{"t":8,"l":56,"v":0.05},{"t":8,"l":57,"v":0.05},{"t":8,"l":58,"v":0.05},{"t":8,"l":59,"v":0.03},{"t":8,"l":60,"v":0.03},{"t":8,"l":61,"v":0.03},
{"t":9,"l":0,"v":0.45},{"t":9,"l":1,"v":0.48},{"t":9,"l":2,"v":0.42},{"t":9,"l":3,"v":0.42},{"t":9,"l":4,"v":0.40},{"t":9,"l":5,"v":0.40},{"t":9,"l":6,"v":0.40},{"t":9,"l":7,"v":0.40},{"t":9,"l":8,"v":0.38},{"t":9,"l":9,"v":0.40},{"t":9,"l":10,"v":0.40},{"t":9,"l":11,"v":0.40},{"t":9,"l":12,"v":0.36},{"t":9,"l":13,"v":0.36},{"t":9,"l":14,"v":0.36},{"t":9,"l":15,"v":0.40},{"t":9,"l":16,"v":0.43},{"t":9,"l":17,"v":0.42},{"t":9,"l":18,"v":0.42},{"t":9,"l":19,"v":0.45},{"t":9,"l":20,"v":0.43},{"t":9,"l":21,"v":0.40},{"t":9,"l":22,"v":0.40},{"t":9,"l":23,"v":0.40},{"t":9,"l":24,"v":0.42},{"t":9,"l":25,"v":0.36},{"t":9,"l":26,"v":0.36},{"t":9,"l":27,"v":0.38},{"t":9,"l":28,"v":0.38},{"t":9,"l":29,"v":0.37},{"t":9,"l":30,"v":0.37},{"t":9,"l":31,"v":0.38},{"t":9,"l":32,"v":0.40},{"t":9,"l":33,"v":0.40},{"t":9,"l":34,"v":0.40},{"t":9,"l":35,"v":0.38},{"t":9,"l":36,"v":0.43},{"t":9,"l":37,"v":0.43},{"t":9,"l":38,"v":0.43},{"t":9,"l":39,"v":0.43},{"t":9,"l":40,"v":0.45},{"t":9,"l":41,"v":0.37},{"t":9,"l":42,"v":0.30},{"t":9,"l":43,"v":0.43},{"t":9,"l":44,"v":0.43},{"t":9,"l":45,"v":0.22},{"t":9,"l":46,"v":0.22},{"t":9,"l":47,"v":0.43},{"t":9,"l":48,"v":0.43},{"t":9,"l":49,"v":0.25},{"t":9,"l":50,"v":0.25},{"t":9,"l":51,"v":0.18},{"t":9,"l":52,"v":0.08},{"t":9,"l":53,"v":0.08},{"t":9,"l":54,"v":0.08},{"t":9,"l":55,"v":0.08},{"t":9,"l":56,"v":0.05},{"t":9,"l":57,"v":0.05},{"t":9,"l":58,"v":0.05},{"t":9,"l":59,"v":0.05},{"t":9,"l":60,"v":0.05},{"t":9,"l":61,"v":0.05},
{"t":10,"l":0,"v":0.40},{"t":10,"l":1,"v":0.43},{"t":10,"l":2,"v":0.40},{"t":10,"l":3,"v":0.40},{"t":10,"l":4,"v":0.37},{"t":10,"l":5,"v":0.37},{"t":10,"l":6,"v":0.33},{"t":10,"l":7,"v":0.34},{"t":10,"l":8,"v":0.32},{"t":10,"l":9,"v":0.36},{"t":10,"l":10,"v":0.37},{"t":10,"l":11,"v":0.37},{"t":10,"l":12,"v":0.40},{"t":10,"l":13,"v":0.38},{"t":10,"l":14,"v":0.40},{"t":10,"l":15,"v":0.45},{"t":10,"l":16,"v":0.42},{"t":10,"l":17,"v":0.43},{"t":10,"l":18,"v":0.40},{"t":10,"l":19,"v":0.42},{"t":10,"l":20,"v":0.40},{"t":10,"l":21,"v":0.40},{"t":10,"l":22,"v":0.40},{"t":10,"l":23,"v":0.40},{"t":10,"l":24,"v":0.40},{"t":10,"l":25,"v":0.42},{"t":10,"l":26,"v":0.42},{"t":10,"l":27,"v":0.42},{"t":10,"l":28,"v":0.40},{"t":10,"l":29,"v":0.42},{"t":10,"l":30,"v":0.43},{"t":10,"l":31,"v":0.43},{"t":10,"l":32,"v":0.45},{"t":10,"l":33,"v":0.43},{"t":10,"l":34,"v":0.43},{"t":10,"l":35,"v":0.43},{"t":10,"l":36,"v":0.45},{"t":10,"l":37,"v":0.45},{"t":10,"l":38,"v":0.43},{"t":10,"l":39,"v":0.42},{"t":10,"l":40,"v":0.42},{"t":10,"l":41,"v":0.40},{"t":10,"l":42,"v":0.43},{"t":10,"l":43,"v":0.27},{"t":10,"l":44,"v":0.27},{"t":10,"l":45,"v":0.27},{"t":10,"l":46,"v":0.27},{"t":10,"l":47,"v":0.27},{"t":10,"l":48,"v":0.27},{"t":10,"l":49,"v":0.25},{"t":10,"l":50,"v":0.25},{"t":10,"l":51,"v":0.15},{"t":10,"l":52,"v":0.10},{"t":10,"l":53,"v":0.10},{"t":10,"l":54,"v":0.08},{"t":10,"l":55,"v":0.08},{"t":10,"l":56,"v":0.05},{"t":10,"l":57,"v":0.05},{"t":10,"l":58,"v":0.05},{"t":10,"l":59,"v":0.05},{"t":10,"l":60,"v":0.05},{"t":10,"l":61,"v":0.05}
]
},
"spacing": 8,
"resolve": {"scale": {"color": "independent"}},
"vconcat": [
{
"title": {"text": "(a) Nemotron-12B-Base", "orient": "bottom", "anchor": "middle", "font": "Liberation Serif", "fontSize": 23.5, "fontWeight": "normal", "color": "black", "offset": 22, "dx": -14},
"vconcat": [
{
"width": 479, "height": 195,
"title": {"text": "Task Particle: Relative Increase Ratio", "fontSize": 7, "fontWeight": "bold", "color": "black", "frame": "group", "offset": 5},
"data": {"name": "ratio"},
"mark": {"type": "rect", "stroke": "#9a9a9a", "strokeWidth": 0.7},
"encoding": {
"x": {"field": "l", "type": "ordinal", "scale": {"paddingInner": 0, "paddingOuter": 0}, "axis": {"title": "Layer", "labels": false, "ticks": false, "domain": false, "titleFontSize": 6, "titleFontWeight": "bold", "titleColor": "black", "titlePadding": 2}},
"y": {"field": "t", "type": "ordinal", "scale": {"paddingInner": 0, "paddingOuter": 0}, "axis": {"title": "Task", "labelExpr": "'Task ' + datum.label", "labelFontSize": 5.2, "labelColor": "#333333", "tickSize": 2.5, "tickWidth": 0.6, "tickColor": "#333333", "domain": false, "labelPadding": 1, "titleFontSize": 6, "titleFontWeight": "bold", "titleColor": "black", "titlePadding": 3}},
"color": {"field": "v", "type": "quantitative", "scale": {"domain": [0, 0.125, 0.25, 0.375, 0.5, 0.625, 0.75, 0.875, 1], "range": ["#f7fcf5", "#e5f5e0", "#c7e9c0", "#a1d99b", "#74c476", "#41ab5d", "#238b45", "#006d2c", "#00441b"]}, "legend": {"title": "Ratio (|ΔP|/P)", "orient": "right", "direction": "vertical", "offset": 10, "padding": 19, "gradientLength": 157, "gradientThickness": 8.5, "gradientStrokeWidth": 0, "values": [0, 0.2, 0.4, 0.6, 0.8, 1], "format": ".1f", "labelFontSize": 6.3, "labelColor": "#333333", "labelOffset": 4, "labelOverlap": false, "labelBaseline": "middle", "titleOrient": "right", "titleFontSize": 6.3, "titleFontWeight": "normal", "titleColor": "#333333", "titleAnchor": "middle", "titlePadding": 1, "encoding": {"title": {"angle": {"value": -90}, "baseline": {"value": "top"}}}}}
}
}
]
},
{
"title": {"text": "(b) Nemotron-12B-Base", "orient": "bottom", "anchor": "middle", "font": "Liberation Serif", "fontSize": 23.5, "fontWeight": "normal", "color": "black", "offset": 22, "dx": -14},
"vconcat": [
{
"width": 479, "height": 195,
"title": {"text": "JS Vulnerability", "fontSize": 7, "fontWeight": "bold", "color": "black", "frame": "group", "offset": 5},
"data": {"name": "js"},
"mark": {"type": "rect", "stroke": "#808080", "strokeWidth": 0.8},
"encoding": {
"x": {"field": "l", "type": "ordinal", "scale": {"paddingInner": 0, "paddingOuter": 0}, "axis": {"title": "Layer", "labels": false, "ticks": false, "domain": false, "titleFontSize": 6, "titleFontWeight": "bold", "titleColor": "black", "titlePadding": 2}},
"y": {"field": "t", "type": "ordinal", "scale": {"paddingInner": 0, "paddingOuter": 0}, "axis": {"title": "Task", "labelExpr": "'Task ' + datum.label", "labelFontSize": 5.2, "labelColor": "#333333", "tickSize": 2.5, "tickWidth": 0.6, "tickColor": "#333333", "domain": false, "labelPadding": 1, "titleFontSize": 6, "titleFontWeight": "bold", "titleColor": "black", "titlePadding": 3}},
"color": {"field": "v", "type": "quantitative", "scale": {"domain": [0, 0.125, 0.25, 0.375, 0.5, 0.625, 0.75, 0.875, 1], "range": ["#ffffcc", "#ffeda0", "#fed976", "#feb24c", "#fd8d3c", "#fc4e2a", "#e31a1c", "#bd0026", "#800026"]}, "legend": {"title": "Jensen-Shannon Divergence", "orient": "right", "direction": "vertical", "offset": 10, "padding": 19, "gradientLength": 157, "gradientThickness": 8.5, "gradientStrokeWidth": 0, "values": [0, 0.2, 0.4, 0.6, 0.8, 1], "format": ".1f", "labelFontSize": 6.3, "labelColor": "#333333", "labelOffset": 4, "labelOverlap": false, "labelBaseline": "middle", "titleOrient": "right", "titleFontSize": 6.3, "titleFontWeight": "normal", "titleColor": "#333333", "titleAnchor": "middle", "titlePadding": 1, "encoding": {"title": {"angle": {"value": -90}, "baseline": {"value": "top"}}}}}
}
}
]
}
]
}
